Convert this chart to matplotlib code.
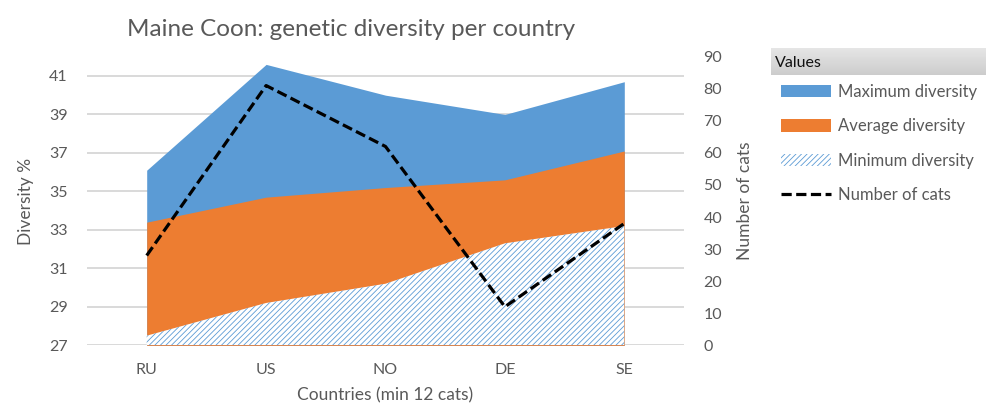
#!/usr/bin/env python3
"""Maine Coon genetic diversity per country (Excel-style area chart)."""

import numpy as np
import matplotlib

matplotlib.use("Agg")
import matplotlib.pyplot as plt
from matplotlib.patches import Patch
from matplotlib.lines import Line2D

countries = ["RU", "US", "NO", "DE", "SE"]
max_div = [36.1, 41.6, 40.0, 39.0, 40.7]
avg_div = [33.4, 34.7, 35.2, 35.6, 37.1]
min_div = [27.5, 29.2, 30.2, 32.3, 33.2]
n_cats = [28, 81, 62, 12, 38]

BLUE = "#5b9bd5"
ORANGE = "#ed7d31"
GREY = "#595959"
GRID = "#d9d9d9"
DASH = (0, (3.2, 1.4))
HATCH = "//////"

plt.rcParams["font.family"] = ["Lato", "DejaVu Sans"]
plt.rcParams["hatch.linewidth"] = 0.6

W, H = 995, 409
fig = plt.figure(figsize=(W / 100, H / 100), dpi=100)
ax = fig.add_axes([87 / W, 63.7 / H, (684 - 87) / W, (345.3 - 56.7) / H])

x = np.arange(len(countries))
base = 27
ax.fill_between(x, base, max_div, color=BLUE, lw=0, label="Maximum diversity")
ax.fill_between(x, base, avg_div, color=ORANGE, lw=0, label="Average diversity")
ax.fill_between(x, base, min_div, facecolor="white", edgecolor=BLUE, hatch=HATCH,
				lw=0, label="Minimum diversity")

ax.set_xlim(-0.5, len(countries) - 0.5)
ax.set_ylim(27, 42)
ax.set_yticks(np.arange(27, 42, 2))
ax.set_xticks(x)
ax.set_xticklabels(countries)
ax.set_axisbelow(True)
ax.yaxis.grid(True, color=GRID, lw=1.4)
for s in ax.spines.values():
	s.set_visible(False)
ax.tick_params(length=0, colors=GREY, labelsize=11.5)
ax.tick_params(axis="y", pad=14)
ax.tick_params(axis="x", pad=13)
ax.set_ylabel("Diversity %", color=GREY, fontsize=12.5, labelpad=11)
ax.set_xlabel("Countries (min 12 cats)", color=GREY, fontsize=12.5, labelpad=7)

ax2 = ax.twinx()
ax2.plot(x, n_cats, color="black", lw=2.3, linestyle=DASH, label="Number of cats")
ax2.set_ylim(0, 90)
ax2.set_yticks(np.arange(0, 91, 10))
for s in ax2.spines.values():
	s.set_visible(False)
ax2.tick_params(length=0, colors=GREY, labelsize=11.5, pad=14)
ax2.set_ylabel("Number of cats", color=GREY, fontsize=12.5, labelpad=11)

fig.text(351 / W, 1 - 30 / H, "Maine Coon: genetic diversity per country",
		 ha="center", va="center", color=GREY, fontsize=17.5)

# legend header bar
hdr = fig.add_axes([771 / W, 1 - 75 / H, 215 / W, 27 / H])
grad = np.linspace(0.9, 0.8, 50).reshape(-1, 1)
hdr.imshow(grad, cmap="gray", vmin=0, vmax=1, aspect="auto", extent=[0, 1, 0, 1])
hdr.set_axis_off()
hdr.text(0.02, 0.45, "Values", ha="left", va="center", fontsize=11.5, color="#111111")

handles = [
	Patch(facecolor=BLUE, edgecolor="none"),
	Patch(facecolor=ORANGE, edgecolor="none"),
	Patch(facecolor="white", edgecolor=BLUE, hatch=HATCH, lw=0),
	Line2D([], [], color="black", lw=2.3, linestyle=DASH),
]
labels = ["Maximum diversity", "Average diversity", "Minimum diversity", "Number of cats"]
leg = fig.legend(handles, labels, loc="upper left", bbox_to_anchor=(781 / W, 1 - 84 / H),
				 frameon=False, fontsize=12, handlelength=3.0, handleheight=0.75,
				 handletextpad=0.4, labelspacing=1.1, borderaxespad=0, borderpad=0)
for t in leg.get_texts():
	t.set_color(GREY)

fig.savefig("out.png", dpi=100)
